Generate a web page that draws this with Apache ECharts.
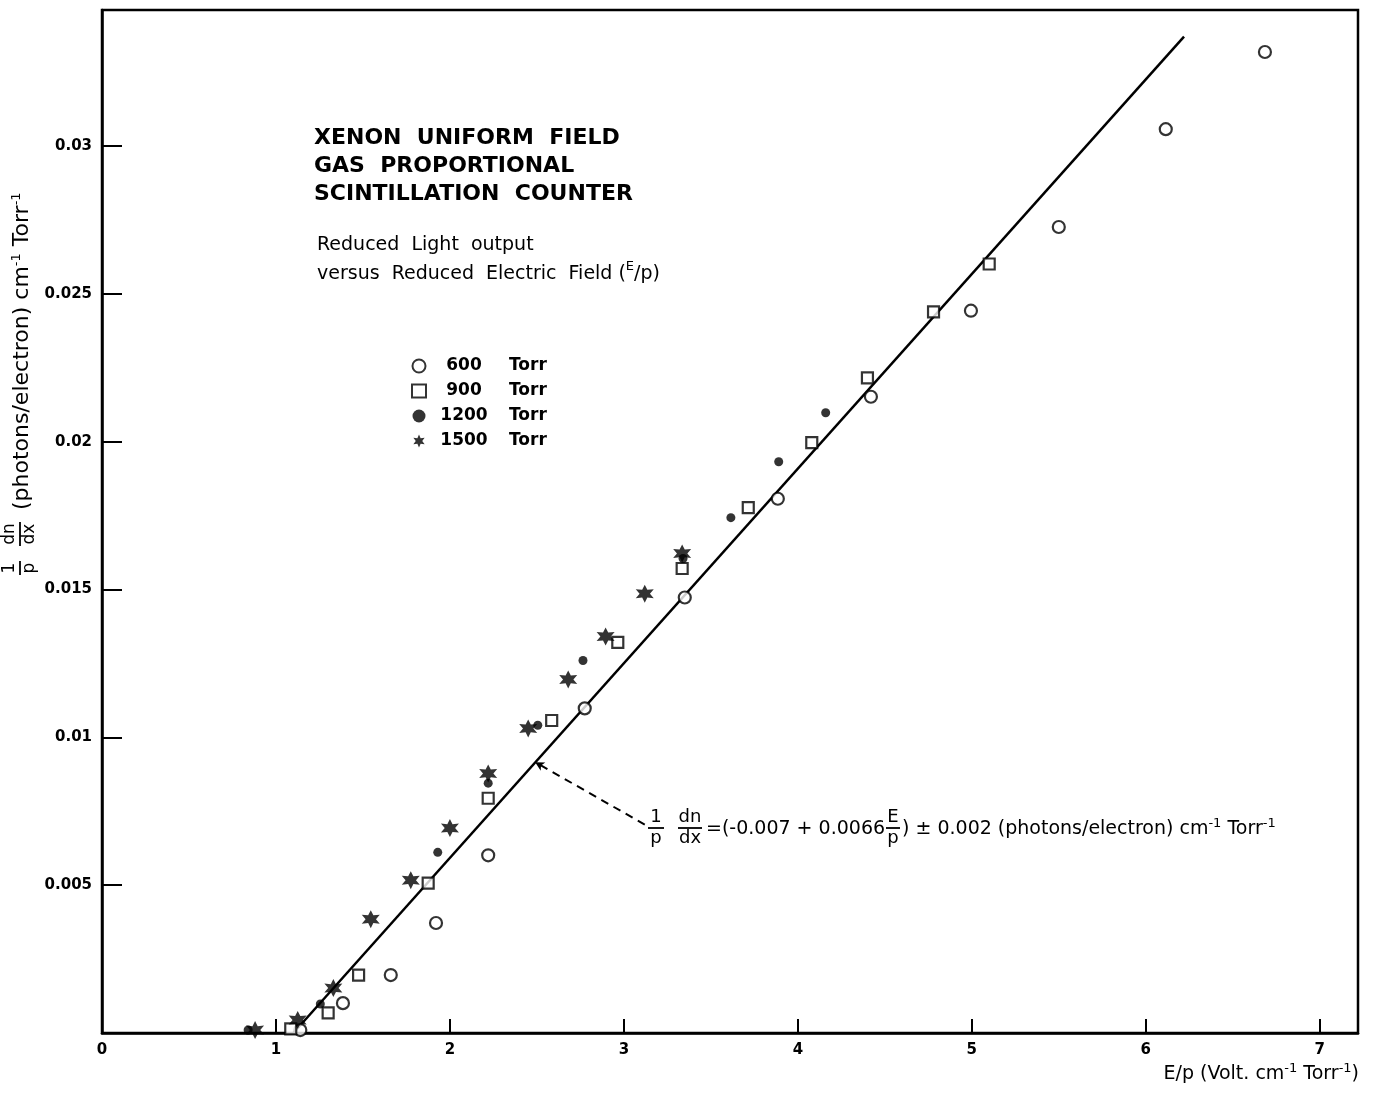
<!DOCTYPE html>
<html>
<head>
<meta charset="utf-8">
<script src="https://cdn.jsdelivr.net/npm/echarts@6/dist/echarts.min.js"></script>
<style>
  html, body { margin: 0; padding: 0; background: #fff; }
  #chart { width: 1375px; height: 1096px; }
</style>
</head>
<body>
<div id="chart"></div>
<script>
// E/p (V cm-1 Torr-1) vs 1/p dn/dx
const torr600 = [
  [1.14, 0.0001], [1.385, 0.00101], [1.66, 0.00196], [1.92, 0.00372],
  [2.22, 0.00601], [2.775, 0.01098], [3.35, 0.01473], [3.885, 0.01807],
  [4.42, 0.02152], [4.995, 0.02443], [5.50, 0.02726], [6.115, 0.03057],
  [6.685, 0.03318]
];
const torr900 = [
  [1.085, 0.00014], [1.30, 0.00068], [1.475, 0.00196], [1.875, 0.00507],
  [2.22, 0.00794], [2.585, 0.01057], [2.965, 0.01321], [3.335, 0.01571],
  [3.715, 0.01777], [4.08, 0.01997], [4.40, 0.02216], [4.78, 0.02439],
  [5.10, 0.02601]
];
const torr1200 = [
  [0.84, 0.0001], [1.255, 0.00098], [1.93, 0.00611], [2.22, 0.00845],
  [2.505, 0.01041], [2.765, 0.0126], [3.34, 0.01605], [3.615, 0.01743],
  [3.89, 0.01932], [4.16, 0.02098]
];
const torr1500 = [
  [0.88, 0.0001], [1.125, 0.00044], [1.33, 0.00152], [1.545, 0.00385],
  [1.775, 0.00517], [2.0, 0.00693], [2.22, 0.00878], [2.45, 0.0103],
  [2.68, 0.01196], [2.895, 0.01341], [3.12, 0.01486], [3.335, 0.01622]
];
// fitted straight line end points
const fitLine = [[1.10, 0], [6.22, 0.0337]];
// dashed pointer from the formula to the line
const pointer = [[3.12, 0.00705], [2.49, 0.00916]];

const xMax = 7.22;
const yMax = 0.0346;

const starPath = 'path://M0,-10 L2.5,-4.33 L8.66,-5 L5,0 L8.66,5 L2.5,4.33 L0,10 L-2.5,4.33 L-8.66,5 L-5,0 L-8.66,-5 L-2.5,-4.33 Z';
const font = 'DejaVu Sans';

const chart = echarts.init(document.getElementById('chart'));

// stacked fraction drawn with graphic elements
function fraction(cx, cy, top, bottom, half, size) {
  return [
    { type: 'text', x: cx, y: cy - 2, style: { text: top, font: size + 'px "' + font + '"', fill: '#000', align: 'center', verticalAlign: 'bottom' } },
    { type: 'line', shape: { x1: cx - half, y1: cy, x2: cx + half, y2: cy }, style: { stroke: '#000', lineWidth: 1.8 } },
    { type: 'text', x: cx, y: cy + 1, style: { text: bottom, font: size + 'px "' + font + '"', fill: '#000', align: 'center', verticalAlign: 'top' } }
  ];
}

const supRich = { s: { fontSize: 13, verticalAlign: 'top', padding: [0, 0, 11, 0], fontFamily: font, fill: '#000' } };

const option = {
  backgroundColor: '#fff',
  animation: false,
  grid: {
    left: 102, right: 17, top: 10, bottom: 63,
    show: true, borderColor: '#000', borderWidth: 2.5, backgroundColor: 'transparent'
  },
  xAxis: {
    type: 'value', min: 0, max: xMax, interval: 1,
    axisLine: { lineStyle: { color: '#000', width: 2.5 } },
    axisTick: { inside: true, length: 14, lineStyle: { color: '#000', width: 2 } },
    splitLine: { show: false },
    axisLabel: {
      color: '#000', fontFamily: font, fontWeight: 'bold', fontSize: 15, margin: 10,
      formatter: v => Math.abs(v - Math.round(v)) < 1e-6 ? String(Math.round(v)) : ''
    }
  },
  yAxis: {
    type: 'value', min: 0, max: yMax, interval: 0.005,
    axisLine: { lineStyle: { color: '#000', width: 2.5 } },
    axisTick: { inside: true, length: 20, lineStyle: { color: '#000', width: 2 } },
    splitLine: { show: false },
    axisLabel: {
      color: '#000', fontFamily: font, fontWeight: 'bold', fontSize: 15, margin: 10,
      formatter: v => (v > 0 && v < 0.034) ? String(+v.toFixed(3)) : ''
    }
  },
  legend: {
    orient: 'vertical', left: 406, top: 352,
    itemWidth: 14, itemHeight: 13, itemGap: 7,
    data: ['600 Torr', '900 Torr', '1200 Torr', '1500 Torr'],
    formatter: name => {
      const p = name.split(' ');
      return '{n|' + p[0] + '}{t|' + p[1] + '}';
    },
    textStyle: {
      color: '#000', fontFamily: font, fontWeight: 'bold', fontSize: 17, lineHeight: 18,
      rich: {
        n: { width: 66, align: 'right', fontFamily: font, fontWeight: 'bold', fontSize: 17 },
        t: { padding: [0, 0, 0, 12], fontFamily: font, fontWeight: 'bold', fontSize: 17 }
      }
    }
  },
  series: [
    {
      name: 'fit', type: 'line', data: fitLine, symbol: 'none',
      lineStyle: { color: '#000', width: 2.5 }, z: 1,
      markLine: {
        silent: true, symbol: ['none', 'arrow'], symbolSize: [7, 9],
        lineStyle: { color: '#000', type: [8, 6], width: 2 },
        label: { show: false },
        data: [[{ coord: pointer[0] }, { coord: pointer[1] }]]
      }
    },
    {
      name: '600 Torr', type: 'scatter', data: torr600, symbol: 'circle', symbolSize: 12,
      itemStyle: { color: '#fff', borderColor: '#000', borderWidth: 2.2 }, z: 3
    },
    {
      name: '900 Torr', type: 'scatter', data: torr900, symbol: 'rect', symbolSize: 11,
      itemStyle: { color: '#fff', borderColor: '#000', borderWidth: 2.2 }, z: 3
    },
    {
      name: '1200 Torr', type: 'scatter', data: torr1200, symbol: 'circle', symbolSize: 9,
      itemStyle: { color: '#000' }, z: 4
    },
    {
      name: '1500 Torr', type: 'scatter', data: torr1500, symbol: starPath, symbolSize: 18,
      itemStyle: { color: '#000' }, z: 4
    }
  ],
  graphic: [
    // title block
    {
      type: 'text', left: 314, top: 124,
      style: {
        text: 'XENON  UNIFORM  FIELD\nGAS  PROPORTIONAL\nSCINTILLATION  COUNTER',
        font: 'bold 22px "' + font + '"', lineHeight: 28, fill: '#000'
      }
    },
    {
      type: 'text', left: 317, top: 231,
      style: {
        text: 'Reduced  Light  output\nversus  Reduced  Electric  Field ({s|E}/p)',
        font: '19px "' + font + '"', lineHeight: 29, fill: '#000',
        rich: { s: { fontSize: 13, verticalAlign: 'top', padding: [0, 0, 9, 0], fontFamily: font, fill: '#000' } }
      }
    },
    // y axis name, rotated
    {
      type: 'group', x: 20, y: 578, rotation: Math.PI / 2,
      children: [
        ...fraction(10, 0, '1', 'p', 7, 17),
        ...fraction(44, 0, 'dn', 'dx', 12, 17),
        {
          type: 'text', x: 68, y: 2,
          style: {
            text: '(photons/electron) cm{s|-1} Torr{s|-1}',
            font: '22px "' + font + '"', fill: '#000', verticalAlign: 'middle', rich: supRich
          }
        }
      ]
    },
    // formula annotation
    ...fraction(656, 828, '1', 'p', 8, 18),
    ...fraction(690, 828, 'dn', 'dx', 12, 18),
    {
      type: 'text', x: 706, y: 829,
      style: { text: '=(-0.007 + 0.0066', font: '19px "' + font + '"', fill: '#000', verticalAlign: 'middle' }
    },
    ...fraction(893, 828, 'E', 'p', 7, 18),
    {
      type: 'text', x: 902, y: 829,
      style: {
        text: ') ± 0.002 (photons/electron) cm{s|-1} Torr{s|-1}',
        font: '19px "' + font + '"', fill: '#000', verticalAlign: 'middle', rich: supRich
      }
    },
    // x axis name
    {
      type: 'text', right: 16, top: 1062,
      style: {
        text: 'E/p (Volt. cm{s|-1} Torr{s|-1})',
        font: '19px "' + font + '"', fill: '#000', rich: supRich
      }
    }
  ]
};

chart.setOption(option);
</script>
</body>
</html>
